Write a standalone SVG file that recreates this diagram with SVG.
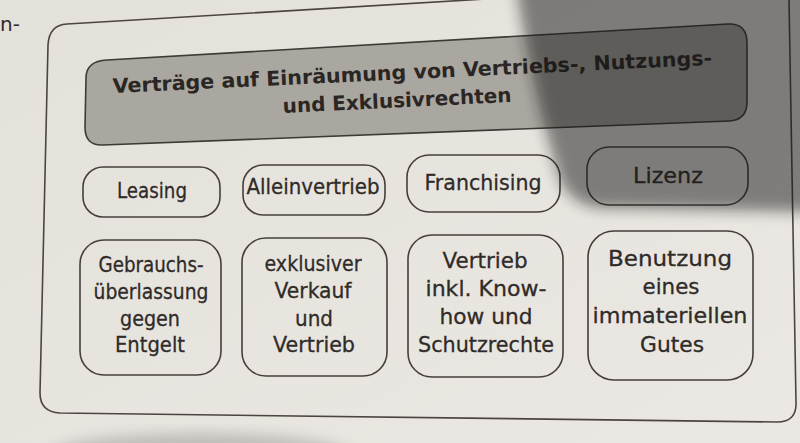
<svg xmlns="http://www.w3.org/2000/svg" width="800" height="443" viewBox="0 0 800 443">
  <style>
    .frame { fill: none; stroke: #4a4540; stroke-width: 1.6; }
    .node { fill: none; stroke: #443f3a; stroke-width: 1.6; }
    .title-box { fill: #aaa7a1; stroke: #3e3a36; stroke-width: 1.6; }
    .t { font-family: "DejaVu Sans", "Liberation Sans", sans-serif; font-size: 21px; fill: #2f2b28; stroke: #2f2b28; stroke-width: 0.3; text-anchor: middle; }
    .tb { font-family: "DejaVu Sans", "Liberation Sans", sans-serif; font-size: 20px; font-weight: bold; fill: #2a2623; }
  </style>
  <defs>
    <filter id="blur" x="-20%" y="-20%" width="140%" height="140%">
      <feGaussianBlur stdDeviation="7"/>
    </filter>
    <linearGradient id="paper" x1="0" y1="0" x2="1" y2="1">
      <stop offset="0" stop-color="#e4e1db"/>
      <stop offset="1" stop-color="#ebe8e3"/>
    </linearGradient>
  </defs>

  <rect x="0" y="0" width="800" height="443" fill="url(#paper)"/>
  <ellipse cx="200" cy="455" rx="150" ry="22" fill="#8c8a88" opacity="0.45" filter="url(#blur)"/>

  <text x="0" y="31" font-family="DejaVu Sans, sans-serif" font-size="20" fill="#2f2b28">n-</text>

  <g id="frame">
    <path class="frame" d="M67,24 L770,-18 Q789,-19 789,0 L796,402 Q797,422 777,422 L60,413 Q40,412 40,393 L48,45 Q49,25 67,24 Z"/>
  </g>

  <g id="title">
    <path class="title-box" d="M107,60 L728,24 Q747,23 747,43 L747,102 Q747,120 729,121 L103,145 Q85,146 85,127 L86,78 Q86,61 107,60 Z"/>
    <text class="tb" x="113" y="93" transform="rotate(-2.7 113 93)" textLength="600" lengthAdjust="spacingAndGlyphs">Verträge auf Einräumung von Vertriebs-, Nutzungs-</text>
    <text class="tb" x="283" y="113" transform="rotate(-2.8 283 113)" textLength="229" lengthAdjust="spacingAndGlyphs">und Exklusivrechten</text>
  </g>

  <g id="leasing">
    <rect class="node" x="83" y="167" width="137" height="50" rx="20"/>
    <text class="t" x="152" y="198" textLength="70" lengthAdjust="spacingAndGlyphs">Leasing</text>
  </g>
  <g id="alleinvertrieb">
    <rect class="node" x="243" y="165" width="142" height="50" rx="20"/>
    <text class="t" x="313" y="194" textLength="133" lengthAdjust="spacingAndGlyphs">Alleinvertrieb</text>
  </g>
  <g id="franchising">
    <rect class="node" x="407" y="155" width="153" height="57" rx="22"/>
    <text class="t" x="483" y="190" textLength="117" lengthAdjust="spacingAndGlyphs">Franchising</text>
  </g>
  <g id="lizenz">
    <rect class="node" x="587" y="147" width="161" height="58" rx="22"/>
    <text class="t" x="668" y="183" textLength="70" lengthAdjust="spacingAndGlyphs">Lizenz</text>
  </g>

  <g id="gebrauch">
    <rect class="node" x="80" y="240" width="141" height="135" rx="24"/>
    <text class="t" x="151" y="272" textLength="105" lengthAdjust="spacingAndGlyphs">Gebrauchs-</text>
    <text class="t" x="151" y="299" textLength="115" lengthAdjust="spacingAndGlyphs">überlassung</text>
    <text class="t" x="150" y="326" textLength="60" lengthAdjust="spacingAndGlyphs">gegen</text>
    <text class="t" x="150" y="352" textLength="70" lengthAdjust="spacingAndGlyphs">Entgelt</text>
  </g>
  <g id="exklusiv">
    <rect class="node" x="242" y="238" width="145" height="138" rx="24"/>
    <text class="t" x="313" y="271" textLength="97" lengthAdjust="spacingAndGlyphs">exklusiver</text>
    <text class="t" x="313" y="298" textLength="77" lengthAdjust="spacingAndGlyphs">Verkauf</text>
    <text class="t" x="314" y="326" textLength="38" lengthAdjust="spacingAndGlyphs">und</text>
    <text class="t" x="314" y="352" textLength="82" lengthAdjust="spacingAndGlyphs">Vertrieb</text>
  </g>
  <g id="knowhow">
    <rect class="node" x="408" y="235" width="155" height="142" rx="24"/>
    <text class="t" x="485" y="268" textLength="85" lengthAdjust="spacingAndGlyphs">Vertrieb</text>
    <text class="t" x="486" y="296" textLength="121" lengthAdjust="spacingAndGlyphs">inkl. Know-</text>
    <text class="t" x="486" y="324" textLength="93" lengthAdjust="spacingAndGlyphs">how und</text>
    <text class="t" x="486" y="352" textLength="136" lengthAdjust="spacingAndGlyphs">Schutzrechte</text>
  </g>
  <g id="benutzung">
    <rect class="node" x="588" y="231" width="165" height="149" rx="26"/>
    <text class="t" x="670" y="266" textLength="124" lengthAdjust="spacingAndGlyphs">Benutzung</text>
    <text class="t" x="671" y="294" textLength="57" lengthAdjust="spacingAndGlyphs">eines</text>
    <text class="t" x="670" y="323" textLength="155" lengthAdjust="spacingAndGlyphs">immateriellen</text>
    <text class="t" x="672" y="352" textLength="64" lengthAdjust="spacingAndGlyphs">Gutes</text>
  </g>

  <g id="connectors"></g>

  <path d="M515,-20 L820,-20 L820,212 L600,208 Q572,205 560,180 L540,110 Q526,50 515,-20 Z" fill="#161616" opacity="0.5" filter="url(#blur)"/>
</svg>
